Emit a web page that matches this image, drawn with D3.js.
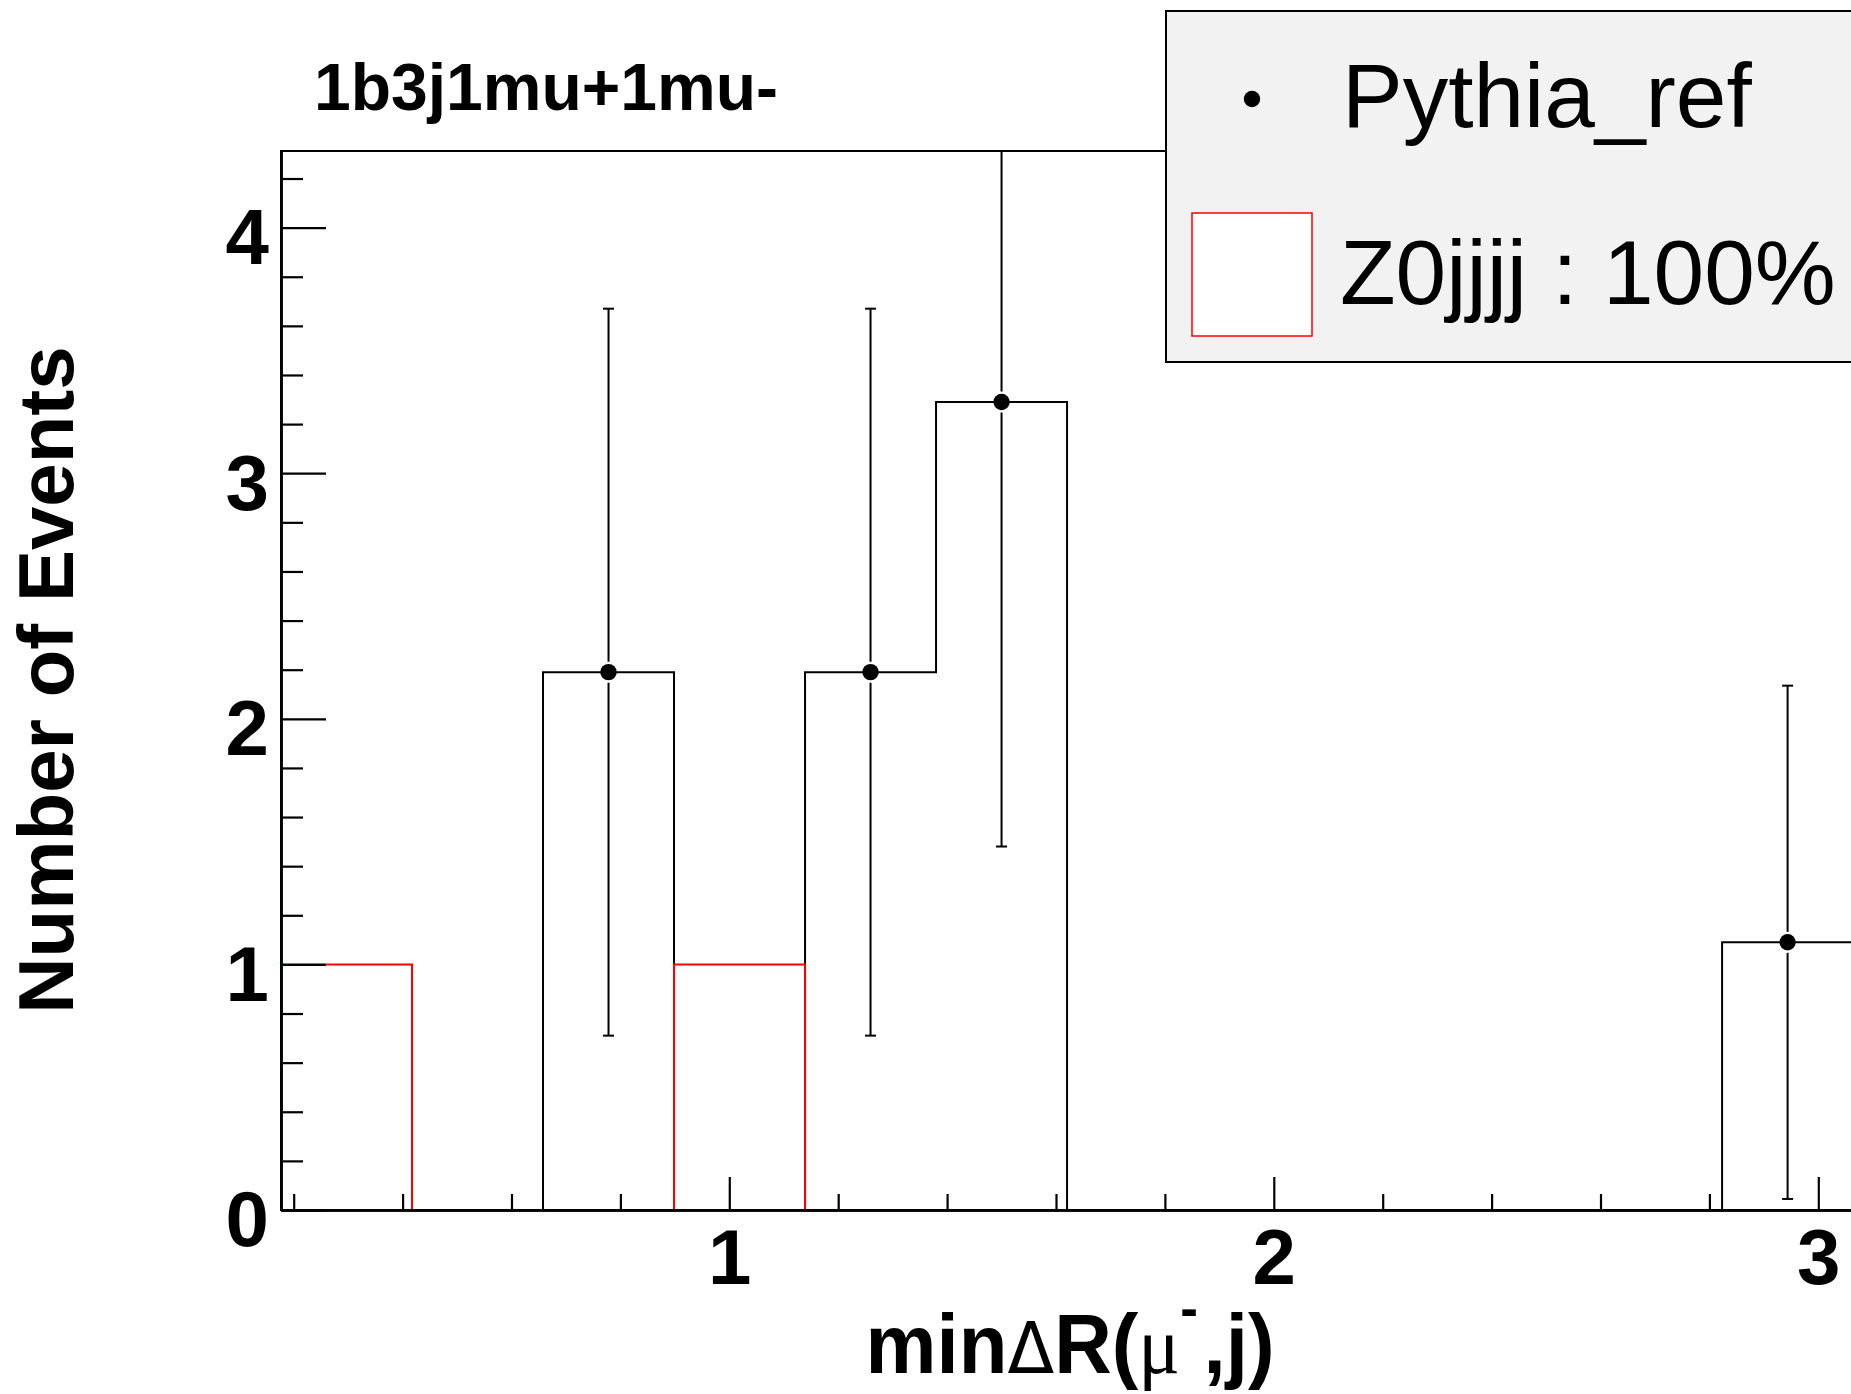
<!DOCTYPE html>
<html>
<head>
<meta charset="utf-8">
<script src="https://cdn.jsdelivr.net/npm/d3@7/dist/d3.min.js"></script>
<style>
html,body{margin:0;padding:0;background:#fff;}
svg{display:block;}
text{font-family:"Liberation Sans",Arial,Helvetica,sans-serif;}
</style>
</head>
<body>
<svg id="c" width="1851" height="1394"></svg>
<script>
// ---- data ----
const binLow = [0.1767, 0.4173, 0.6579, 0.8985, 1.1391, 1.3797, 1.6203, 1.8609, 2.1015, 2.3421, 2.5827, 2.8233];
const binHigh = [0.4173, 0.6579, 0.8985, 1.1391, 1.3797, 1.6203, 1.8609, 2.1015, 2.3421, 2.5827, 2.8233, 3.0639];
const pythiaRef = [0, 0, 2.19, 0, 2.19, 3.29, 0, 0, 0, 0, 0, 1.09];
const pythiaErr = [0, 0, 1.48, 0, 1.48, 1.81, 0, 0, 0, 0, 0, 1.045];
const z0jjjj = [1, 0, 0, 1, 0, 0, 0, 0, 0, 0, 0, 0];
const xMajorTicks = [1, 2, 3];
const xMinorTicks = [0.2, 0.4, 0.6, 0.8, 1.2, 1.4, 1.6, 1.8, 2.2, 2.4, 2.6, 2.8];
const yMajorTicks = [0, 1, 2, 3, 4];
const yMinorTicks = [0.2,0.4,0.6,0.8,1.2,1.4,1.6,1.8,2.2,2.4,2.6,2.8,3.2,3.4,3.6,3.8,4.2];
const legendLabels = ["Pythia_ref", "Z0jjjj : 100%"];
const titleText = "1b3j1mu+1mu-";
const yTitle = "Number of Events";

// ---- layout ----
const svg = d3.select("#c");
const L = 281, R = 1853.1, T = 151, B = 1210;
const x = d3.scaleLinear().domain([0.1767, 3.0639]).range([L, R]);
const y = d3.scaleLinear().domain([0, 4.312]).range([B, T]);

svg.append("defs").append("clipPath").attr("id","plotclip")
  .append("rect").attr("x",L).attr("y",T).attr("width",R-L).attr("height",B-T);

// frame
svg.append("rect").attr("x",L).attr("y",T).attr("width",R-L).attr("height",B-T)
  .attr("fill","none").attr("stroke","#000").attr("stroke-width",2);

const plot = svg.append("g").attr("clip-path","url(#plotclip)");

function histPath(vals){
  const p = d3.path();
  p.moveTo(x(binLow[0]), y(0));
  vals.forEach((v,i)=>{
    p.lineTo(x(binLow[i]), y(v));
    p.lineTo(x(binHigh[i]), y(v));
  });
  p.lineTo(x(binHigh[binHigh.length-1]), y(0));
  return p.toString();
}

plot.append("path").attr("d",histPath(pythiaRef)).attr("fill","none")
  .attr("stroke","#000").attr("stroke-width",2);
plot.append("path").attr("d",histPath(z0jjjj)).attr("fill","none")
  .attr("stroke","#ff0000").attr("stroke-width",2);

// error bars & markers
const gap = 10.5, cap = 5.5, mr = 8.2;
pythiaRef.forEach((v,i)=>{
  if (v<=0) return;
  const cx = x((binLow[i]+binHigh[i])/2);
  const e = pythiaErr[i];
  const yv = y(v), yh = y(v+e), yl = y(v-e);
  plot.append("line").attr("x1",cx).attr("x2",cx).attr("y1",yh).attr("y2",yv-gap)
    .attr("stroke","#000").attr("stroke-width",2);
  plot.append("line").attr("x1",cx).attr("x2",cx).attr("y1",yv+gap).attr("y2",yl)
    .attr("stroke","#000").attr("stroke-width",2);
  [yh, yl].forEach(yy=>{
    plot.append("line").attr("x1",cx-cap).attr("x2",cx+cap).attr("y1",yy).attr("y2",yy)
      .attr("stroke","#000").attr("stroke-width",2);
  });
  plot.append("circle").attr("cx",cx).attr("cy",yv).attr("r",mr).attr("fill","#000");
});

// axes
const fontTick = 78;
function styleAxis(g){
  g.selectAll("path.domain").attr("stroke","#000").attr("stroke-width",2.5);
  g.selectAll(".tick line").attr("stroke","#000").attr("stroke-width",2.2);
  g.selectAll(".tick text").attr("fill","#000").attr("font-size",fontTick).attr("font-weight","bold")
    .attr("font-family","Liberation Sans");
}
const gxMinor = svg.append("g").attr("transform",`translate(0,${B})`)
  .call(d3.axisBottom(x).tickValues(xMinorTicks).tickSize(-16).tickSizeOuter(0).tickFormat(""));
const gx = svg.append("g").attr("transform",`translate(0,${B})`)
  .call(d3.axisBottom(x).tickValues(xMajorTicks).tickSize(-33).tickSizeOuter(0).tickPadding(19).tickFormat(d3.format("d")));
styleAxis(gxMinor); styleAxis(gx);

const gyMinor = svg.append("g").attr("transform",`translate(${L},0)`)
  .call(d3.axisLeft(y).tickValues(yMinorTicks).tickSize(-22).tickSizeOuter(0).tickFormat(""));
const gy = svg.append("g").attr("transform",`translate(${L},0)`)
  .call(d3.axisLeft(y).tickValues(yMajorTicks).tickSize(-45).tickSizeOuter(0).tickPadding(12).tickFormat(d3.format("d")));
styleAxis(gyMinor); styleAxis(gy);
gy.selectAll(".tick text").attr("dy","0.46em");

// axis titles
const xt = svg.append("text")
  .attr("transform",`translate(${(869+1271)/2},1373) scale(0.95,1)`)
  .attr("text-anchor","middle")
  .attr("font-size",84).attr("font-weight","bold").attr("fill","#000");
xt.append("tspan").text("min");
xt.append("tspan").attr("font-weight","normal").attr("font-family","DejaVu Sans").attr("font-size",72).text("\u0394");
xt.append("tspan").text("R(");
xt.append("tspan").attr("font-weight","normal").attr("font-family","Liberation Serif").attr("font-size",82).text("\u03bc");
xt.append("tspan").attr("font-size",56).attr("dy",-46).text("-");
xt.append("tspan").attr("dy",46).attr("dx",6).text(",j)");

svg.append("text").attr("transform",`translate(73,680) rotate(-90)`).attr("text-anchor","middle")
  .attr("font-size",78).attr("font-weight","bold").attr("fill","#000").text(yTitle);

// title
svg.append("text").attr("x",314).attr("y",110).attr("font-size",66).attr("font-weight","bold")
  .attr("fill","#000").text(titleText);

// legend
const lg = svg.append("g");
lg.append("rect").attr("x",1166).attr("y",11).attr("width",720).attr("height",351)
  .attr("fill","#f2f2f2").attr("stroke","#000").attr("stroke-width",2);
lg.append("circle").attr("cx",1252).attr("cy",99).attr("r",8.2).attr("fill","#000");
lg.append("rect").attr("x",1192).attr("y",213).attr("width",120).attr("height",123)
  .attr("fill","#fff").attr("stroke","#ff0000").attr("stroke-width",1.5);
lg.append("text").attr("x",1342).attr("y",127).attr("font-size",91).attr("fill","#000").text(legendLabels[0]);
lg.append("text").attr("x",1340).attr("y",304).attr("font-size",91).attr("fill","#000").text(legendLabels[1]);
</script>
</body>
</html>
